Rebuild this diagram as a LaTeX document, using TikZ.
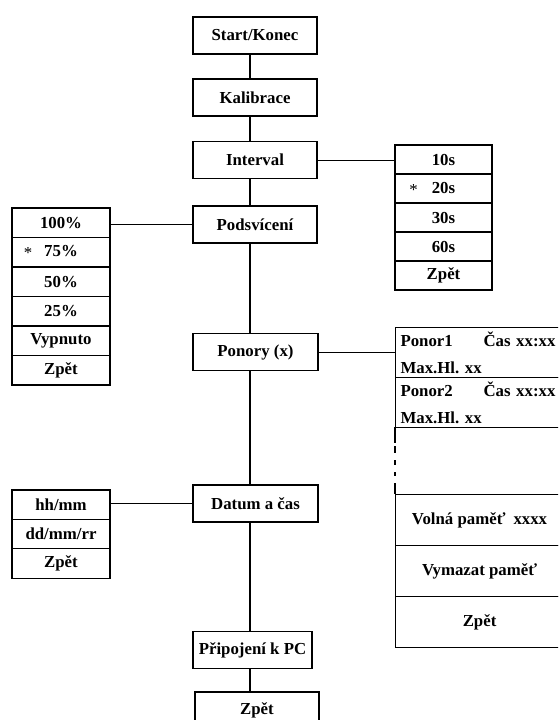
\documentclass[tikz,border=0pt]{standalone}
\usepackage{fontspec}
\setmainfont{Liberation Serif}
\frenchspacing
\begin{document}
\begin{tikzpicture}[x=1pt,y=-1pt,
  txt/.style={font=\fontsize{16.8}{27}\selectfont\bfseries},
  box/.style={txt, draw, line width=1.1pt, minimum height=37pt, inner sep=0pt},
  mrow/.style={txt, draw, line width=1.1pt, inner sep=0pt},
  prow/.style={txt, draw, line width=1.1pt, inner xsep=5pt, inner ysep=0pt,
    text width=158pt, minimum height=50pt, align=left, anchor=north west},
  crow/.style={txt, draw, line width=1.1pt, inner sep=0pt, minimum width=168pt,
    minimum height=51pt, anchor=north west},
  spine/.style={line width=2.6pt},
  link/.style={line width=1pt},
  edge/.style={line width=1.1pt}]
\clip (0,0) rectangle (558,720);
\fill[white] (0,0) rectangle (558,720);
\coordinate (sx) at (250,0);

% main column
\node[box, minimum width=124pt] (start) at (255,35.5) {Start/Konec};
\node[box, minimum width=124pt] (kal) at (255,97.5) {Kalibrace};
\node[box, minimum width=124pt] (int) at (255,160) {Interval};
\node[box, minimum width=124pt] (pod) at (255,224.5) {Podsvícení};
\node[box, minimum width=125pt] (pon) at (255.5,352) {Ponory (x)};
\node[box, minimum width=125pt] (dat) at (255.5,503.5) {Datum a čas};
\node[box, minimum width=119pt] (pc) at (252.5,650) {Připojení k PC};
\node[box, minimum width=124pt] (zp) at (257,710.5) {Zpět};

\draw[spine] (start.south -| sx) -- (kal.north -| sx);
\draw[spine] (kal.south -| sx) -- (int.north -| sx);
\draw[spine] (int.south -| sx) -- (pod.north -| sx);
\draw[spine] (pod.south -| sx) -- (pon.north -| sx);
\draw[spine] (pon.south -| sx) -- (dat.north -| sx);
\draw[spine] (dat.south -| sx) -- (pc.north -| sx);
\draw[spine] (pc.south -| sx) -- (zp.north -| sx);

% Interval menu
\begin{scope}[every node/.style={mrow, minimum width=97pt, minimum height=29pt}]
\node (i1) at (443.5,159.5) {10s};
\node (i2) at (443.5,188.5) {\llap{\raisebox{-2pt}{\mdseries *}\hspace{14pt}}20s};
\node (i3) at (443.5,217.5) {30s};
\node (i4) at (443.5,246.5) {60s};
\node (i5) at (443.5,275.5) {Zpět};
\end{scope}

% Podsviceni menu
\begin{scope}[every node/.style={mrow, minimum width=98pt, minimum height=29.5pt}]
\node (p1) at (61,222.75) {100\%};
\node (p2) at (61,252.25) {\llap{\raisebox{-2pt}{\mdseries *}\hspace{12pt}}75\%};
\node (p3) at (61,281.75) {50\%};
\node (p4) at (61,311.25) {25\%};
\node (p5) at (61,340.75) {Vypnuto};
\node (p6) at (61,370.25) {Zpět};
\end{scope}

% Datum menu
\begin{scope}[every node/.style={mrow, minimum width=98pt, minimum height=29.4pt}]
\node (d1) at (61,504.7) {hh/mm};
\node (d2) at (61,534.1) {dd/mm/rr};
\node (d3) at (61,563.5) {Zpět};
\end{scope}

% Ponory menu
\node[prow] (r1) at (395,327) {\makebox[83pt][l]{Ponor1}Čas xx:xx\\Max.Hl. xx};
\node[prow] (r2) at (395,377) {\makebox[83pt][l]{Ponor2}Čas xx:xx\\Max.Hl. xx};
\node[anchor=north west, inner sep=0pt, minimum width=168pt, minimum height=67pt] (gp) at (395,427) {};
\node[crow] (vp) at (395,494) {Volná paměť\hspace{8pt}xxxx};
\node[crow] (vm) at (395,545) {Vymazat paměť};
\node[crow] (vz) at (395,596) {Zpět};
\draw[edge, dash pattern=on 16pt off 3pt on 7pt off 7pt on 5pt off 7pt on 4pt off 7pt on 11pt]
  (gp.north west) -- (gp.south west);

% horizontal links
\draw[link] (int.east) -- (int.east -| i1.west);
\draw[link] (pod.west) -- (pod.west -| p1.east);
\draw[link] (pon.east) -- (pon.east -| r1.west);
\draw[link] (dat.west) -- (dat.west -| d1.east);
\end{tikzpicture}
\end{document}
